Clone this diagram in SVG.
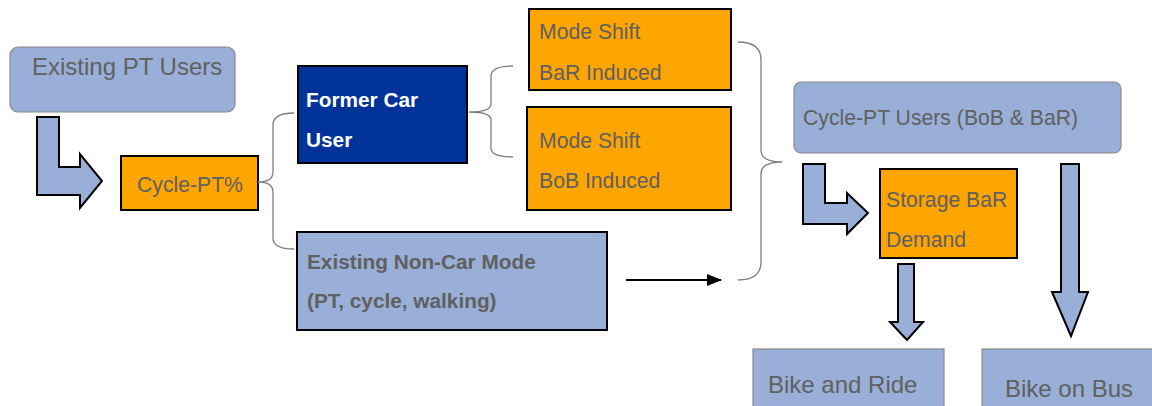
<svg xmlns="http://www.w3.org/2000/svg" width="1152" height="406" viewBox="0 0 1152 406">
<style>
.lb{fill:#99AFD7;stroke:#8a8a8a;stroke-width:1.2}
.lbk{fill:#99AFD7;stroke:#000;stroke-width:2}
.or{fill:#FFA500;stroke:#000;stroke-width:2}
.db{fill:#003399;stroke:#000;stroke-width:2}
.arr{fill:#99AFD7;stroke:#000;stroke-width:2;stroke-linejoin:miter}
.br{fill:none;stroke:#7f7f7f;stroke-width:1.3}
text{font-family:"Liberation Sans",Arial,sans-serif;fill:#606060}
.t24{font-size:24px}
.t21{font-size:21.2px}
.b{font-weight:bold;font-size:20.8px}
.w{fill:#fff}
</style>
<defs>
<marker id="ah" markerWidth="15" markerHeight="12" refX="14" refY="6" orient="auto" markerUnits="userSpaceOnUse">
<path d="M0,0 L15,6 L0,12 Z" fill="#000"/>
</marker>
</defs>
<g id="existing-pt-users">
<rect class="lb" x="10" y="47" width="225" height="65" rx="8"/>
<text class="t24" x="32" y="75">Existing PT Users</text>
</g>
<g id="cycle-pt-pct">
<rect class="or" x="121" y="156" width="137" height="54"/>
<text class="t21" x="137" y="192">Cycle-PT%</text>
</g>
<g id="former-car-user">
<rect class="db" x="298" y="66" width="169" height="97"/>
<text class="b w" x="306" y="107">Former Car</text>
<text class="b w" x="306" y="147">User</text>
</g>
<g id="mode-shift-bar">
<rect class="or" x="529" y="9" width="202" height="81"/>
<text class="t21" x="539" y="39">Mode Shift</text>
<text class="t21" x="539" y="80">BaR Induced</text>
</g>
<g id="mode-shift-bob">
<rect class="or" x="527" y="107" width="204" height="103"/>
<text class="t21" x="539" y="148">Mode Shift</text>
<text class="t21" x="539" y="188">BoB Induced</text>
</g>
<g id="existing-non-car">
<rect class="lbk" x="297" y="232" width="310" height="98"/>
<text class="b" x="307" y="269">Existing Non-Car Mode</text>
<text class="b" x="307" y="308">(PT, cycle, walking)</text>
</g>
<g id="cycle-pt-users">
<rect class="lb" x="794" y="82" width="327" height="71" rx="7"/>
<text class="t21" x="803" y="125">Cycle-PT Users (BoB &amp; BaR)</text>
</g>
<g id="storage-bar">
<rect class="or" x="880" y="169" width="137" height="89"/>
<text class="t21" x="886" y="207">Storage BaR</text>
<text class="t21" x="886" y="247">Demand</text>
</g>
<g id="bike-and-ride">
<rect class="lb" x="753" y="349" width="191" height="70"/>
<text class="t24" x="768" y="393">Bike and Ride</text>
</g>
<g id="bike-on-bus">
<rect class="lb" x="982" y="349" width="180" height="70"/>
<text class="t24" x="1005" y="397">Bike on Bus</text>
</g>
<g id="connectors">
<path class="arr" d="M37,117 L59,117 L59,167 L80,167 L80,154 L102,181 L80,208 L80,195 L37,195 Z"/>
<path class="br" d="M294,113 Q273,113 273,125 L273,172 Q273,182 258,182 Q273,182 273,192 L273,238 Q273,249 294,249"/>
<path class="br" d="M513,66 Q491,66 491,76 L491,104 Q491,112 469,112 Q491,112 491,120 L491,148 Q491,157 513,157"/>
<path class="br" d="M738,42 Q761,42 761,60 L761,150 Q761,162 782,162 Q761,162 761,174 L761,262 Q761,280 738,280"/>
<line x1="626" y1="280" x2="721" y2="280" stroke="#000" stroke-width="2" marker-end="url(#ah)"/>
<path class="arr" d="M803,164 L825,164 L825,203 L847,203 L847,193 L868,213 L847,234 L847,224 L803,224 Z"/>
<path class="arr" d="M898,264 L914,264 L914,322 L923,322 L907,340 L890,322 L898,322 Z"/>
<path class="arr" d="M1061,164 L1079,164 L1079,292 L1088,292 L1071,336 L1052,292 L1061,292 Z"/>
</g>
</svg>
